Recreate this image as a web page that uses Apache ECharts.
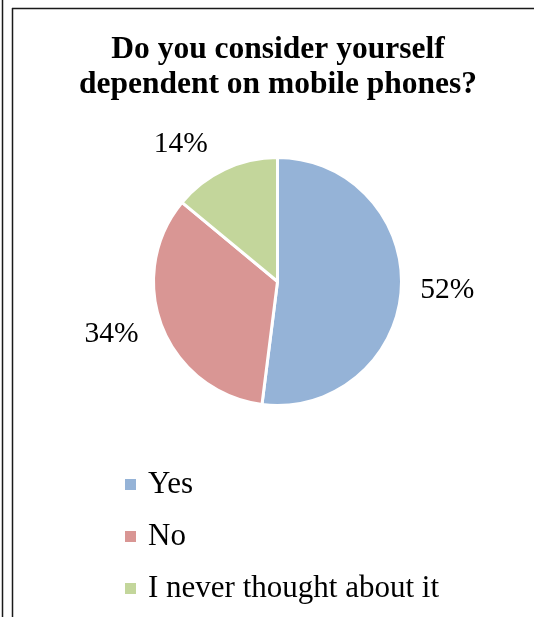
<!DOCTYPE html>
<html>
<head>
<meta charset="utf-8">
<style>
  html, body { margin: 0; padding: 0; background: #fff; }
  #chart { width: 534px; height: 617px; }
</style>
<script src="https://cdn.jsdelivr.net/npm/echarts@6/dist/echarts.min.js"></script>
</head>
<body>
<div id="chart"></div>
<script>
// Survey answers and their shares (percent)
const categories = ['Yes', 'No', 'I never thought about it'];
const shares = [52, 34, 14];
const sliceColors = ['#95B3D7', '#D99694', '#C3D69B'];
const chartTitle = 'Do you consider yourself\ndependent on mobile phones?';

const serif = '"Liberation Serif", "Times New Roman", serif';

// Radial distance of each percentage label from the pie edge
const labelReach = [14, 20, 28];

const chart = echarts.init(document.getElementById('chart'), null, { renderer: 'canvas' });

const pieData = categories.map((name, i) => ({
  name: name,
  value: shares[i],
  itemStyle: { color: sliceColors[i] },
  labelLine: { show: false, length: labelReach[i], length2: 0 }
}));

chart.setOption({
  backgroundColor: '#ffffff',
  animation: false,
  title: {
    text: chartTitle,
    left: 278,
    top: 32,
    textAlign: 'center',
    padding: 0,
    textStyle: {
      fontFamily: serif,
      fontSize: 31.5,
      fontWeight: 'bold',
      lineHeight: 35.5,
      color: '#000'
    }
  },
  legend: {
    orient: 'vertical',
    left: 123,
    top: 469,
    padding: 0,
    itemGap: 21,
    itemWidth: 13,
    itemHeight: 13,
    icon: 'rect',
    selectedMode: false,
    data: categories,
    textStyle: {
      fontFamily: serif,
      fontSize: 31,
      color: '#000',
      padding: [0, 0, 0, 6]
    }
  },
  series: [{
    type: 'pie',
    center: [277.5, 281.5],
    radius: 124,
    startAngle: 90,
    clockwise: true,
    avoidLabelOverlap: false,
    itemStyle: { borderColor: '#ffffff', borderWidth: 3 },
    label: {
      show: true,
      position: 'outside',
      formatter: '{c}%',
      fontFamily: serif,
      fontSize: 29.5,
      color: '#000',
      distanceToLabelLine: 5
    },
    labelLine: { show: false },
    emphasis: { disabled: true },
    data: pieData
  }],
  // Decorative frame lines around the chart area
  graphic: [
    { type: 'line', shape: { x1: 2.5, y1: 0, x2: 2.5, y2: 617 }, style: { stroke: '#1a1a1a', lineWidth: 1.5 } },
    { type: 'line', shape: { x1: 12.5, y1: 8, x2: 12.5, y2: 617 }, style: { stroke: '#1a1a1a', lineWidth: 1.5 } },
    { type: 'line', shape: { x1: 12, y1: 8.5, x2: 534, y2: 8.5 }, style: { stroke: '#1a1a1a', lineWidth: 1.5 } }
  ]
});
</script>
</body>
</html>
